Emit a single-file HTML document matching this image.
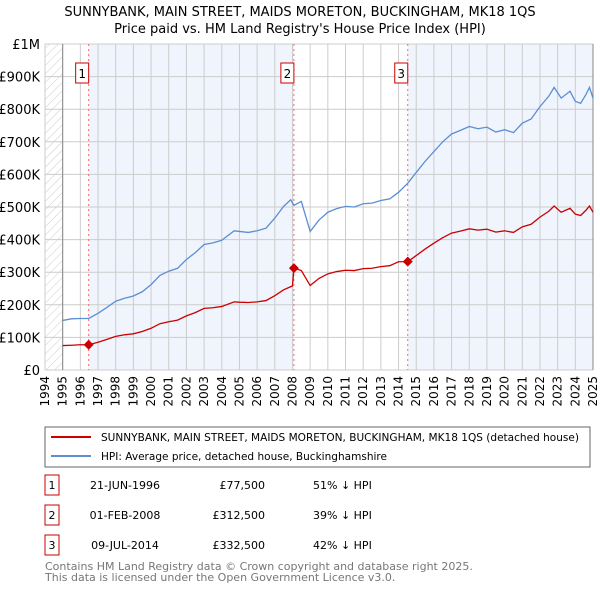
<!DOCTYPE html>
<html><head><meta charset="utf-8"><style>
body{margin:0;background:#fff;font-family:"Liberation Sans","DejaVu Sans",sans-serif;}
svg text{font-family:"DejaVu Sans","Liberation Sans",sans-serif;}
</style></head><body>
<svg id="chart" width="600" height="590" xmlns="http://www.w3.org/2000/svg">
<defs><pattern id="hatch" width="6" height="6" patternUnits="userSpaceOnUse" patternTransform="rotate(45)"><line x1="0" y1="0" x2="0" y2="6" stroke="#ccc" stroke-width="1"/></pattern></defs>
<text x="300" y="16" text-anchor="middle" font-size="13" fill="#000">SUNNYBANK, MAIN STREET, MAIDS MORETON, BUCKINGHAM, MK18 1QS</text>
<text x="300" y="33" text-anchor="middle" font-size="13" fill="#000">Price paid vs. HM Land Registry's House Price Index (HPI)</text>
<g id="plot"></g>
<rect x="45" y="427" width="545" height="40" fill="#fff" stroke="#666"/>
<line x1="51" y1="437" x2="91" y2="437" stroke="#cc0000" stroke-width="2"/>
<text x="101" y="441" font-size="11" textLength="478" lengthAdjust="spacingAndGlyphs">SUNNYBANK, MAIN STREET, MAIDS MORETON, BUCKINGHAM, MK18 1QS (detached house)</text>
<line x1="51" y1="456" x2="91" y2="456" stroke="#5b8fd4" stroke-width="2"/>
<text x="101" y="460" font-size="11" textLength="286" lengthAdjust="spacingAndGlyphs">HPI: Average price, detached house, Buckinghamshire</text>
<g id="table" font-size="11"></g>
<text x="45" y="570" font-size="11" fill="#777">Contains HM Land Registry data © Crown copyright and database right 2025.</text>
<text x="45" y="581" font-size="11" fill="#777">This data is licensed under the Open Government Licence v3.0.</text>
</svg>
<script>
const years=[1995,1995.5,1996,1996.47,1997,1997.5,1998,1998.5,1999,1999.5,2000,2000.5,2001,2001.5,2002,2002.5,2003,2003.5,2004,2004.7,2005,2005.5,2006,2006.5,2007,2007.5,2007.9,2008.08,2008.5,2009,2009.5,2010,2010.5,2011,2011.5,2012,2012.5,2013,2013.5,2014,2014.52,2015,2015.5,2016,2016.5,2017,2017.5,2018,2018.5,2019,2019.5,2020,2020.5,2021,2021.5,2022,2022.5,2022.8,2023.2,2023.7,2024,2024.3,2024.6,2024.8,2025];
const hpi=[152,157,158,158,174,192,211,220,227,240,262,290,303,312,339,360,385,390,398,427,425,422,427,435,466,502,522,505,517,425,460,484,495,502,500,510,512,520,525,545,573,606,640,670,700,724,735,747,740,745,730,737,728,757,770,808,840,867,834,855,824,818,845,867,834];
const redYears=[1995,1995.5,1996,1996.47,1997,1997.5,1998,1998.5,1999,1999.5,2000,2000.5,2001,2001.5,2002,2002.5,2003,2003.5,2004,2004.7,2005,2005.5,2006,2006.5,2007,2007.5,2008.0,2008.08,2008.5,2009,2009.5,2010,2010.5,2011,2011.5,2012,2012.5,2013,2013.5,2014,2014.52,2015,2015.5,2016,2016.5,2017,2017.5,2018,2018.5,2019,2019.5,2020,2020.5,2021,2021.5,2022,2022.5,2022.8,2023.2,2023.7,2024,2024.3,2024.6,2024.8,2025];
const red=[75,76,77.5,77.5,85,94,103,108,111,118,128,142,148,153,166,176,189,191,195,209,208,207,209,213,228,246,258,312.5,305,259,281,295,302,306,305,311,312,317,320,332,332.5,351,371,389,406,420,426,433,429,432,423,427,422,439,447,469,487,503,484,496,478,474,490,503,484];
const saleYears=[1996.47,2008.08,2014.52];
const salePrices=[77.5,312.5,332.5];
const saleLabels=["1","2","3"];
const saleDates=["21-JUN-1996","01-FEB-2008","09-JUL-2014"];
const salePriceText=["£77,500","£312,500","£332,500"];
const salePct=["51% ↓ HPI","39% ↓ HPI","42% ↓ HPI"];
const yTicks=[0,100,200,300,400,500,600,700,800,900,1000];
const yTickLabels=["£0","£100K","£200K","£300K","£400K","£500K","£600K","£700K","£800K","£900K","£1M"];
const xTicks=[1994,1995,1996,1997,1998,1999,2000,2001,2002,2003,2004,2005,2006,2007,2008,2009,2010,2011,2012,2013,2014,2015,2016,2017,2018,2019,2020,2021,2022,2023,2024,2025];

const X0=45,X1=593,Y0=370,Y1=44;
const sx=y=>X0+(y-1994)/(2025-1994)*(X1-X0);
const sy=v=>Y0-v/1000*(Y0-Y1);
const NS="http://www.w3.org/2000/svg";
const plot=document.getElementById('plot');
function mk(tag,attrs,parent){const e=document.createElementNS(NS,tag);for(const k in attrs)e.setAttribute(k,attrs[k]);(parent||plot).appendChild(e);return e;}
let e;
e=mk('rect',{x:X0,y:Y1,width:X1-X0,height:Y0-Y1,fill:'#fff'});


e=mk('rect',{x:sx(1994),y:Y1,width:sx(1995)-sx(1994),height:Y0-Y1,fill:'url(#hatch)'});


e=mk('rect',{x:sx(saleYears[0]),y:Y1,width:sx(saleYears[1])-sx(saleYears[0]),height:Y0-Y1,fill:'#f0f4fc'});


e=mk('rect',{x:sx(saleYears[2]),y:Y1,width:X1-sx(saleYears[2]),height:Y0-Y1,fill:'#f0f4fc'});


xTicks.forEach(t=>{
 e=mk('line',{x1:sx(t),x2:sx(t),y1:Y1,y2:Y0,stroke:'#ccc','stroke-width':1});
 
 
 const tx=sx(t)+4;
 e=mk('text',{x:tx,y:Y0+6,transform:`rotate(-90 ${tx} ${Y0+6})`,'text-anchor':'end','font-size':12,fill:'#000'});
 e.textContent=t;
 
 
});
yTicks.forEach((t,i)=>{
 e=mk('line',{x1:X0,x2:X1,y1:sy(t),y2:sy(t),stroke:'#ccc','stroke-width':1});
 
 
 e=mk('text',{x:40,y:sy(t)+5,'text-anchor':'end','font-size':13,fill:'#000'});
 e.textContent=yTickLabels[i];
 
 
});
e=mk('line',{x1:sx(1995),x2:sx(1995),y1:Y1,y2:Y0,stroke:'#888'});


e=mk('line',{x1:X1,x2:X1,y1:Y1,y2:Y0,stroke:'#888'});


saleYears.forEach((s,i)=>{
 e=mk('line',{x1:sx(s),x2:sx(s),y1:Y1,y2:Y0,stroke:'#f66','stroke-width':1,'stroke-dasharray':'2,3'});
 
 
 e=mk('rect',{x:sx(s)-13,y:63,width:13,height:20,fill:'#fff',stroke:'#cc0000'});
 
 
 e=mk('text',{x:sx(s)-6.5,y:78,'text-anchor':'middle','font-size':12});
 e.textContent=saleLabels[i];
 
 
});
e=mk('polyline',{points:years.map((y,i)=>sx(y)+','+sy(hpi[i])).join(' '),fill:'none',stroke:'#5b8fd4','stroke-width':1.3});


e=mk('polyline',{points:redYears.map((y,i)=>sx(y)+','+sy(red[i])).join(' '),fill:'none',stroke:'#cc0000','stroke-width':1.3});


saleYears.forEach((s,i)=>{
 const cx=sx(s),cy=sy(salePrices[i]);
 e=mk('polygon',{points:`${cx},${cy-5} ${cx+5},${cy} ${cx},${cy+5} ${cx-5},${cy}`,fill:'#cc0000'});
 
 
});
const tbl=document.getElementById('table');
saleLabels.forEach((l,i)=>{
 const yc=485+i*30;
 e=mk('rect',{x:45,y:yc-10,width:14,height:20,fill:'#fff',stroke:'#cc0000'},tbl);
 
 
 e=mk('text',{x:52,y:yc+4,'text-anchor':'middle'},tbl);e.textContent=l;
 
 
 e=mk('text',{x:125,y:yc+4,'text-anchor':'middle'},tbl);e.textContent=saleDates[i];
 
 
 e=mk('text',{x:265,y:yc+4,'text-anchor':'end'},tbl);e.textContent=salePriceText[i];
 
 
 e=mk('text',{x:313,y:yc+4},tbl);e.textContent=salePct[i];
 
 
});
</script>
</body></html>
